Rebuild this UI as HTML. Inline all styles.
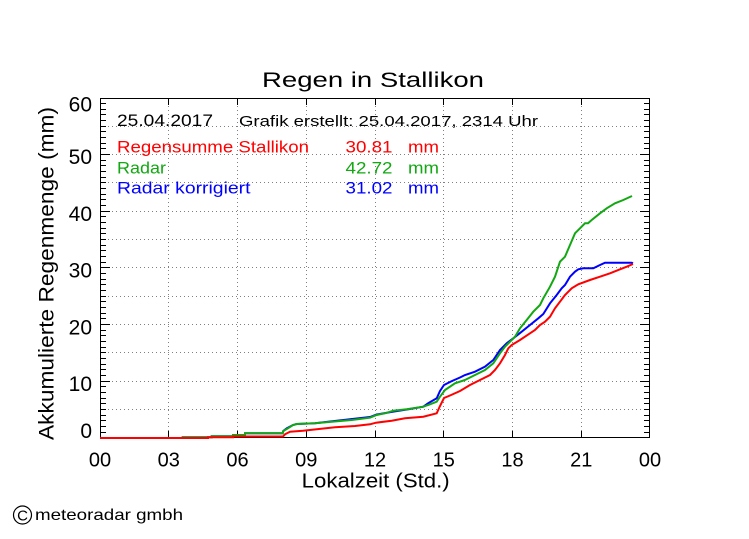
<!DOCTYPE html>
<html><head><meta charset="utf-8"><style>
html,body{margin:0;padding:0;background:#fff;}
svg{display:block;}
text{font-family:"Liberation Sans",sans-serif;}
</style></head><body>
<svg width="749" height="539" viewBox="0 0 749 539" xmlns="http://www.w3.org/2000/svg">
<rect width="749" height="539" fill="#fff"/>
<!-- grid -->
<g stroke="#808080" stroke-width="1" stroke-dasharray="1 3" fill="none">
<path d="M100 409.5H650M100 381.5H650M100 352.5H650M100 324.5H650M100 296.5H650M100 267.5H650M100 239.5H650M100 211.5H650M100 182.5H650M100 154.5H650M100 126.5H650"/>
<path d="M168.5 98V438M237.5 98V438M306.5 98V438M375.5 98V438M443.5 98V438M512.5 98V438M581.5 98V438"/>
</g>
<!-- frame -->
<rect x="100.5" y="98.5" width="549" height="339" fill="none" stroke="#000" stroke-width="1"/>
<!-- y ticks left -->
<g stroke="#000" stroke-width="1">
<path d="M100 432.5h6M100 426.5h6M100 420.5h6M100 415.5h6M100 409.5h6M100 403.5h6M100 398.5h6M100 392.5h6M100 386.5h6M100 381.5h10M100 375.5h6M100 369.5h6M100 364.5h6M100 358.5h6M100 352.5h6M100 347.5h6M100 341.5h6M100 335.5h6M100 330.5h6M100 324.5h10M100 318.5h6M100 313.5h6M100 307.5h6M100 301.5h6M100 296.5h6M100 290.5h6M100 284.5h6M100 279.5h6M100 273.5h6M100 267.5h10M100 262.5h6M100 256.5h6M100 250.5h6M100 245.5h6M100 239.5h6M100 233.5h6M100 228.5h6M100 222.5h6M100 216.5h6M100 211.5h10M100 205.5h6M100 199.5h6M100 194.5h6M100 188.5h6M100 182.5h6M100 177.5h6M100 171.5h6M100 165.5h6M100 160.5h6M100 154.5h10M100 148.5h6M100 143.5h6M100 137.5h6M100 131.5h6M100 126.5h6M100 120.5h6M100 114.5h6M100 109.5h6M100 103.5h6"/>
<path d="M650 432.5h-6M650 426.5h-6M650 420.5h-6M650 415.5h-6M650 409.5h-6M650 403.5h-6M650 398.5h-6M650 392.5h-6M650 386.5h-6M650 381.5h-10M650 375.5h-6M650 369.5h-6M650 364.5h-6M650 358.5h-6M650 352.5h-6M650 347.5h-6M650 341.5h-6M650 335.5h-6M650 330.5h-6M650 324.5h-10M650 318.5h-6M650 313.5h-6M650 307.5h-6M650 301.5h-6M650 296.5h-6M650 290.5h-6M650 284.5h-6M650 279.5h-6M650 273.5h-6M650 267.5h-10M650 262.5h-6M650 256.5h-6M650 250.5h-6M650 245.5h-6M650 239.5h-6M650 233.5h-6M650 228.5h-6M650 222.5h-6M650 216.5h-6M650 211.5h-10M650 205.5h-6M650 199.5h-6M650 194.5h-6M650 188.5h-6M650 182.5h-6M650 177.5h-6M650 171.5h-6M650 165.5h-6M650 160.5h-6M650 154.5h-10M650 148.5h-6M650 143.5h-6M650 137.5h-6M650 131.5h-6M650 126.5h-6M650 120.5h-6M650 114.5h-6M650 109.5h-6M650 103.5h-6"/>
<!-- x ticks -->
<path d="M168.5 438v-7M237.5 438v-7M306.5 438v-7M375.5 438v-7M443.5 438v-7M512.5 438v-7M581.5 438v-7M168.5 98v7M237.5 98v7M306.5 98v7M375.5 98v7M443.5 98v7M512.5 98v7M581.5 98v7"/>
</g>
<!-- curves -->
<g fill="none" stroke-width="2" stroke-linejoin="miter">
<polyline stroke="#0000ff" points="100,438 182.7,438 182.7,437.3 211.7,437.3 211.7,436.3 233,436.3 233,435 245,435 245,433.3 282.7,433.3 283.3,431 286.7,428.3 293,425 296.7,424 315,423.3 328,421.7 350,419.3 370,417 376.7,414.5 393.3,411.7 410,409 423.3,406.7 428,403.3 436.7,398.3 440,391 444,385 452,381 460,377.5 465,375 475,371.7 485,366.7 493.3,360 500,350 506.7,343.3 513.3,338.3 521.7,331.7 530,325 538.3,318.3 543.3,314 550,303.3 556.7,295 561.7,288.3 565,285 570,276.7 575,271.7 578.3,269.3 583.3,268.3 593.3,268.3 600,265 605,262.7 631.7,262.7 633,263.3"/>
<polyline stroke="#12a812" points="100,438 182.7,438 182.7,437.3 211.7,437.3 211.7,436.3 233,436.3 233,435 245,435 245,433.3 282.7,433.3 283.3,431 288,428.3 293,425 296.7,424 315,423.3 331.7,421.7 351.7,420 370,417.7 376.7,415 385,413.3 393.3,410.7 406.7,409.3 413.3,408.3 423.3,406.7 430,404.3 436.7,401.7 440,396.7 445,390 455,383.3 465,380 475,375 485,370 493.3,363.3 500,353.3 505,346.7 510,341.7 515,336.7 520,328.3 526.7,320 533.3,311.7 540,305 543.3,298.3 550,286.7 555,276.7 560,261.7 565,256.7 570,245 575,233.3 580,228.3 585,223.3 588,223.3 591.7,220 600,213.3 606.7,208.3 615,203.3 623.3,200 632,196"/>
<polyline stroke="#ff0000" points="100,438 208,438 208,437.3 233,437.3 233,436.5 283,436.5 285,434.3 290,431.7 303,430.7 316.7,429.3 335,427.3 355,426 370,424.3 376,422.7 391.7,420.7 405,418.3 423.3,416.7 436.7,413.3 440,406 444,398 450,395.5 460,391 470,385 480,380 490,375 495,370 500,363.3 505,355 508.3,348.3 511.7,345 520,340 530,333.3 535,330 540,325 545,321.7 550,316.7 555,308.3 565,295 571.7,288.3 578.3,284.3 590,280 600,276.7 610,273.3 620,269.3 626.7,266.7 633,264"/>
</g>
<!-- title -->
<text x="262" y="87" font-size="21" textLength="222" lengthAdjust="spacingAndGlyphs" fill="#000">Regen in Stallikon</text>
<!-- legend -->
<text x="117" y="126" font-size="17" textLength="96" lengthAdjust="spacingAndGlyphs" fill="#000">25.04.2017</text>
<text x="239" y="126" font-size="14.5" textLength="299" lengthAdjust="spacingAndGlyphs" fill="#000">Grafik erstellt: 25.04.2017, 2314 Uhr</text>
<g font-size="16.5" lengthAdjust="spacingAndGlyphs">
<text x="117" y="152.5" textLength="192" lengthAdjust="spacingAndGlyphs" fill="#ff0000">Regensumme Stallikon</text>
<text x="345.5" y="152.5" textLength="47" lengthAdjust="spacingAndGlyphs" fill="#ff0000">30.81</text>
<text x="408" y="152.5" textLength="31" lengthAdjust="spacingAndGlyphs" fill="#ff0000">mm</text>
<text x="117" y="173.5" textLength="49" lengthAdjust="spacingAndGlyphs" fill="#12a812">Radar</text>
<text x="345.5" y="173.5" textLength="47" lengthAdjust="spacingAndGlyphs" fill="#12a812">42.72</text>
<text x="408" y="173.5" textLength="31" lengthAdjust="spacingAndGlyphs" fill="#12a812">mm</text>
<text x="117" y="193.5" textLength="133.5" lengthAdjust="spacingAndGlyphs" fill="#0000ff">Radar korrigiert</text>
<text x="345.5" y="193.5" textLength="47" lengthAdjust="spacingAndGlyphs" fill="#0000ff">31.02</text>
<text x="408" y="193.5" textLength="31" lengthAdjust="spacingAndGlyphs" fill="#0000ff">mm</text>
</g>
<!-- y tick labels -->
<g font-size="21" text-anchor="end" fill="#000">
<text x="92" y="111.7">60</text>
<text x="92" y="164.2">50</text>
<text x="92" y="220.8">40</text>
<text x="92" y="277.3">30</text>
<text x="92" y="334.5">20</text>
<text x="92" y="390.8">10</text>
<text x="92" y="438">0</text>
</g>
<!-- x tick labels -->
<g font-size="20" text-anchor="middle" fill="#000">
<text x="100" y="466.5">00</text>
<text x="168.75" y="466.5">03</text>
<text x="237.5" y="466.5">06</text>
<text x="306.25" y="466.5">09</text>
<text x="375" y="466.5">12</text>
<text x="443.75" y="466.5">15</text>
<text x="512.5" y="466.5">18</text>
<text x="581.25" y="466.5">21</text>
<text x="650" y="466.5">00</text>
</g>
<!-- axis labels -->
<text x="301.7" y="487.5" font-size="20" textLength="148" lengthAdjust="spacingAndGlyphs" fill="#000">Lokalzeit (Std.)</text>
<text transform="translate(53.3,273.5) rotate(-90)" x="0" y="0" font-size="21" text-anchor="middle" textLength="333" lengthAdjust="spacingAndGlyphs" fill="#000">Akkumulierte Regenmenge (mm)</text>
<!-- copyright -->
<circle cx="22.5" cy="515" r="9" fill="none" stroke="#000" stroke-width="1.2"/>
<text x="22.5" y="520.5" font-size="15" text-anchor="middle" fill="#000">C</text>
<text x="35" y="520" font-size="16" textLength="148" lengthAdjust="spacingAndGlyphs" fill="#000">meteoradar gmbh</text>
</svg>
</body></html>
